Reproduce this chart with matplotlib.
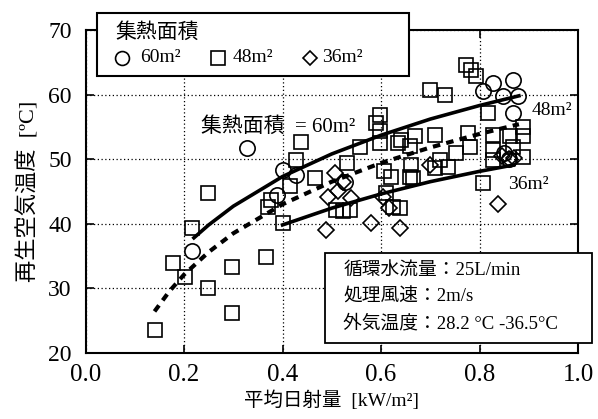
import matplotlib

matplotlib.use("Agg")
import matplotlib.pyplot as plt  # noqa: E402
from matplotlib.patches import Rectangle  # noqa: E402

plt.rcParams["font.family"] = ["Liberation Serif", "Noto Sans CJK JP"]

sq_x = [0.141, 0.177, 0.202, 0.216, 0.248, 0.249, 0.298, 0.298, 0.367, 0.371,
        0.377, 0.401, 0.415, 0.428, 0.438, 0.466, 0.509, 0.523, 0.536, 0.530,
        0.557, 0.590, 0.597, 0.597, 0.597, 0.607, 0.611, 0.621, 0.624, 0.638,
        0.634, 0.640, 0.658, 0.658, 0.661, 0.665, 0.668, 0.699, 0.709, 0.709,
        0.719, 0.729, 0.736, 0.753, 0.773, 0.776, 0.780, 0.783, 0.793, 0.807,
        0.818, 0.827, 0.827, 0.827, 0.861, 0.868, 0.888, 0.888, 0.888]
sq_y = [23.5, 33.9, 31.8, 39.3, 30.1, 44.7, 26.2, 33.3, 34.8, 42.6,
        43.7, 40.1, 45.8, 49.9, 52.7, 47.0, 42.1, 41.9, 42.1, 49.4,
        51.9, 55.6, 56.9, 54.4, 52.5, 48.1, 44.7, 47.3, 42.6, 42.4,
        52.5, 53.0, 52.0, 47.3, 49.1, 47.0, 53.5, 60.7, 53.8, 48.6,
        49.9, 59.9, 48.8, 50.9, 64.6, 54.0, 51.9, 63.8, 62.8, 46.3,
        57.1, 53.8, 51.4, 49.9, 53.5, 51.9, 55.0, 53.5, 50.4]

ci_x = [0.216, 0.328, 0.388, 0.401, 0.428, 0.526, 0.807, 0.827, 0.847, 0.868,
        0.878, 0.868, 0.860, 0.850]
ci_y = [35.8, 51.7, 44.4, 48.3, 47.5, 46.4, 60.6, 61.8, 59.7, 62.3,
        59.7, 57.1, 50.0, 51.0]

di_x = [0.489, 0.492, 0.506, 0.513, 0.523, 0.540, 0.580, 0.604, 0.616, 0.638,
        0.699, 0.837, 0.845, 0.860, 0.870]
di_y = [39.0, 44.2, 47.8, 45.0, 46.5, 43.9, 40.1, 44.2, 42.4, 39.4,
        49.1, 43.0, 50.5, 50.0, 50.2]

# fitted curves, sampled off the chart
fit60_x = [0.22, 0.25, 0.30, 0.40, 0.50, 0.60, 0.70, 0.80, 0.88]
fit60_y = [37.8, 39.8, 42.7, 47.3, 50.8, 53.7, 56.2, 58.3, 59.8]
fit48_x = [0.14, 0.17, 0.20, 0.25, 0.30, 0.40, 0.50, 0.60, 0.70, 0.80, 0.88]
fit48_y = [26.4, 29.5, 32.1, 35.6, 38.5, 43.0, 46.5, 49.4, 51.8, 53.9, 55.4]
fit36_x = [0.40, 0.50, 0.60, 0.70, 0.80, 0.87]
fit36_y = [39.8, 42.4, 44.6, 46.5, 48.1, 49.1]

xticks = [0.0, 0.2, 0.4, 0.6, 0.8, 1.0]
yticks = [20, 30, 40, 50, 60, 70]

fig = plt.figure(figsize=(5.98, 4.19), dpi=100)
ax = fig.add_axes([0.1431, 0.1582, 0.8235, 0.7702])

mk = dict(linestyle="none", markerfacecolor="none", markeredgecolor="k",
          markeredgewidth=1.2, zorder=3)
ax.plot(sq_x, sq_y, marker="s", markersize=10.5, **mk)
ax.plot(ci_x, ci_y, marker="o", markersize=11, **mk)
ax.plot(di_x, di_y, marker="D", markersize=8, **mk)

ax.plot(fit60_x, fit60_y, color="k", lw=2.6, zorder=4)
ax.plot(fit48_x, fit48_y, color="k", lw=3.0, dashes=(1.8, 1.5), zorder=4)
ax.plot(fit36_x, fit36_y, color="k", lw=2.6, zorder=4)

ax.set_xlim(0, 1.0)
ax.set_ylim(20, 70)
ax.set_xticks(xticks)
ax.set_yticks(yticks)
ax.set_xticklabels([f"{v:.1f}" for v in xticks])
ax.grid(True, linestyle=(0, (1, 2)), color="k", lw=0.9)
ax.tick_params(direction="in", length=6, width=1.2, top=True, right=True,
               pad=8)
ax.tick_params(axis="x", labelsize=18)
ax.tick_params(axis="y", labelsize=17, pad=10)
for s in ax.spines.values():
    s.set_linewidth(1.5)

ax.set_xlabel("平均日射量  [kW/m²]", fontsize=14, labelpad=3)
ax.set_ylabel("再生空気温度  [ºC]", fontsize=16, labelpad=6)

ax.text(0.234, 55.0, "集熱面積  = 60m²", fontsize=15, ha="left", va="center",
        zorder=5)
ax.text(0.906, 57.5, "48m²", fontsize=14, ha="left", va="center", zorder=5)
ax.text(0.857, 46.0, "36m²", fontsize=14, ha="left", va="center", zorder=5)

# legend box
ax.add_patch(Rectangle((0.023, 0.857), 0.634, 0.196, transform=ax.transAxes,
                       facecolor="white", edgecolor="k", lw=1.5,
                       clip_on=False, zorder=6))
ax.text(0.060, 0.99, "集熱面積", transform=ax.transAxes, fontsize=15,
        ha="left", va="center", zorder=7)
lg = dict(linestyle="none", markerfacecolor="none", markeredgecolor="k",
          markeredgewidth=1.2, transform=ax.transAxes, clip_on=False, zorder=7)
ax.plot([0.074], [0.914], marker="o", markersize=10, **lg)
ax.plot([0.269], [0.914], marker="s", markersize=9.5, **lg)
ax.plot([0.456], [0.914], marker="D", markersize=7.5, **lg)
for xpos, lab in [(0.1105, "60m²"), (0.299, "48m²"), (0.480, "36m²")]:
    ax.text(xpos, 0.914, lab, transform=ax.transAxes, fontsize=14,
            ha="left", va="center", zorder=7)

# conditions box
ax.add_patch(Rectangle((0.486, 0.030), 0.542, 0.279, transform=ax.transAxes,
                       facecolor="white", edgecolor="k", lw=1.3,
                       clip_on=False, zorder=6))
cond = ["循環水流量：25L/min", "処理風速：2m/s", "外気温度：28.2 °C -36.5°C"]
for i, line in enumerate(cond):
    ax.text(0.523, 0.254 - i * 0.082, line, transform=ax.transAxes,
            fontsize=13.5, ha="left", va="center", zorder=7)

fig.savefig("out.png", dpi=100)
